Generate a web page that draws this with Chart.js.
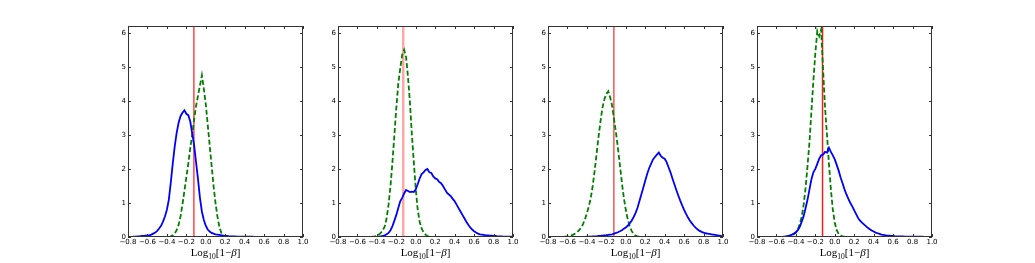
<!DOCTYPE html>
<html>
<head>
<meta charset="utf-8">
<script src="https://cdn.jsdelivr.net/npm/chart.js@4"></script>
<style>
  body { margin: 0; background: #fff; width: 1035px; height: 263px; position: relative; overflow: hidden; }
  canvas { position: absolute; top: 0; }
</style>
</head>
<body>
<canvas id="p0" width="220" height="263" style="left:98px"></canvas>
<canvas id="p1" width="220" height="263" style="left:308px"></canvas>
<canvas id="p2" width="220" height="263" style="left:518px"></canvas>
<canvas id="p3" width="220" height="263" style="left:727px"></canvas>
<script>
// histogram bin width and tick positions
const binWidth = 0.02;
const xTicks = [-0.8, -0.6, -0.4, -0.2, 0.0, 0.2, 0.4, 0.6, 0.8, 1.0];
const yTicks = [0, 1, 2, 3, 4, 5, 6];

// first bin centre of each histogram
const blueStart = [-0.74, -0.38, -0.40, -0.52];
const greenStart = [-0.36, -0.44, -0.62, -0.48];

// vertical marker (red line) per panel
const markerX = [-0.122, -0.129, -0.122, -0.126];

// blue (solid) histograms
const blue1 = [0.01, 0.01, 0.02, 0.02, 0.03, 0.03, 0.04, 0.05, 0.05, 0.07, 0.1, 0.13, 0.18, 0.25,
  0.33, 0.45, 0.6, 0.8, 1.1, 1.6, 2.15, 2.65, 3.05, 3.35, 3.55, 3.65, 3.72, 3.62, 3.58, 3.4,
  3.05, 2.7, 2.2, 1.7, 1.15, 0.75, 0.5, 0.33, 0.22, 0.16, 0.12, 0.1, 0.08, 0.07, 0.06, 0.05,
  0.04, 0.03, 0.03, 0.02, 0.02, 0.02, 0.02, 0.01, 0.01, 0.01, 0.01, 0.01, 0.01, 0.01, 0.01, 0.01];
const blue2 = [0.01, 0.02, 0.03, 0.05, 0.08, 0.12, 0.2, 0.32, 0.48, 0.65, 0.85, 1.05, 1.15, 1.28,
  1.38, 1.35, 1.32, 1.33, 1.32, 1.4, 1.55, 1.72, 1.85, 1.9, 1.97, 2.0, 1.9, 1.88, 1.78, 1.72,
  1.7, 1.62, 1.58, 1.5, 1.4, 1.3, 1.25, 1.2, 1.12, 1.05, 0.95, 0.85, 0.75, 0.65, 0.55, 0.45,
  0.36, 0.28, 0.22, 0.17, 0.13, 0.1, 0.08, 0.07, 0.06, 0.05, 0.05, 0.04, 0.04, 0.03, 0.03,
  0.02, 0.02, 0.02, 0.01, 0.01, 0.01, 0.01, 0.01];
const blue3 = [0.01, 0.01, 0.01, 0.02, 0.02, 0.02, 0.03, 0.03, 0.04, 0.05, 0.05, 0.06, 0.07, 0.08,
  0.1, 0.12, 0.14, 0.17, 0.2, 0.24, 0.28, 0.33, 0.4, 0.48, 0.58, 0.7, 0.85, 1.05, 1.25, 1.45,
  1.65, 1.85, 2.02, 2.15, 2.28, 2.35, 2.42, 2.48, 2.38, 2.33, 2.3, 2.2, 2.05, 1.9, 1.72, 1.55,
  1.38, 1.22, 1.07, 0.93, 0.8, 0.68, 0.57, 0.48, 0.4, 0.33, 0.27, 0.22, 0.18, 0.15, 0.13,
  0.11, 0.1, 0.09, 0.08, 0.07, 0.06, 0.05, 0.04, 0.03];
const blue4 = [0.01, 0.02, 0.03, 0.05, 0.07, 0.1, 0.14, 0.2, 0.3, 0.45, 0.62, 0.85, 1.1, 1.4,
  1.7, 1.9, 2.0, 2.15, 2.3, 2.4, 2.42, 2.5, 2.48, 2.62, 2.5, 2.4, 2.28, 2.12, 1.95, 1.75,
  1.58, 1.4, 1.25, 1.12, 1.0, 0.9, 0.78, 0.67, 0.56, 0.48, 0.42, 0.37, 0.32, 0.27, 0.23, 0.19,
  0.16, 0.13, 0.11, 0.09, 0.07, 0.06, 0.05, 0.04, 0.04, 0.03, 0.03, 0.02, 0.02, 0.02, 0.02,
  0.02, 0.01, 0.01, 0.01, 0.01, 0.01, 0.01, 0.01, 0.01, 0.01, 0.01];

// green (dashed) histograms
const green1 = [0.02, 0.05, 0.1, 0.2, 0.35, 0.6, 0.95, 1.35, 1.75, 2.15, 2.6, 3.0, 3.45, 3.85,
  4.15, 4.45, 4.75, 4.35, 3.9, 3.3, 2.7, 2.1, 1.5, 1.0, 0.6, 0.3, 0.12, 0.04, 0.01];
const green2 = [0.01, 0.02, 0.04, 0.07, 0.12, 0.2, 0.3, 0.55, 0.95, 1.5, 2.2, 3.0, 3.8, 4.5,
  4.95, 5.35, 5.5, 5.3, 4.7, 3.95, 3.0, 2.2, 1.4, 0.8, 0.45, 0.25, 0.14, 0.07, 0.03, 0.01];
const green3 = [0.01, 0.02, 0.03, 0.05, 0.07, 0.1, 0.14, 0.2, 0.27, 0.38, 0.52, 0.7, 0.9, 1.15,
  1.5, 1.95, 2.45, 2.95, 3.4, 3.8, 4.05, 4.2, 4.28, 4.1, 3.85, 3.45, 3.05, 2.6, 2.1, 1.6,
  1.15, 0.8, 0.52, 0.32, 0.18, 0.09, 0.04, 0.02, 0.01];
const green4 = [0.01, 0.02, 0.05, 0.08, 0.13, 0.22, 0.38, 0.6, 0.95, 1.45, 2.1, 2.8, 3.7, 4.6,
  5.4, 6.05, 5.9, 6.1, 4.9, 3.8, 3.0, 2.15, 1.4, 0.8, 0.42, 0.2, 0.09, 0.04, 0.02, 0.01];

const blueValues = [blue1, blue2, blue3, blue4];
const greenValues = [green1, green2, green3, green4];
const markerStyle = [
  { color: '#ff0000', width: 1.1 },
  { color: 'rgba(255,0,0,0.35)', width: 2.5 },
  { color: '#ee0000', width: 1 },
  { color: '#ff1a1a', width: 1.5 }
];

function histPoints(start, values) {
  const pts = [{ x: +(start - binWidth).toFixed(3), y: 0 }];
  values.forEach((v, i) => pts.push({ x: +(start + i * binWidth).toFixed(3), y: v }));
  pts.push({ x: +(start + values.length * binWidth).toFixed(3), y: 0 });
  return pts;
}

const tickFont = { family: 'DejaVu Sans', size: 7 };

// frame, inward ticks on all sides and the x label
const frameTicks = {
  id: 'frameTicks',
  afterDatasetsDraw(chart) {
    const { ctx, chartArea: a, scales: { x, y } } = chart;
    ctx.save();
    ctx.strokeStyle = '#333';
    ctx.lineWidth = 1;
    ctx.strokeRect(a.left + 0.5, a.top + 0.5, a.right - a.left - 1, a.bottom - a.top - 1);
    ctx.beginPath();
    xTicks.forEach(v => {
      const px = Math.round(x.getPixelForValue(v)) + 0.5;
      ctx.moveTo(px, a.bottom); ctx.lineTo(px, a.bottom - 3);
      ctx.moveTo(px, a.top); ctx.lineTo(px, a.top + 3);
    });
    yTicks.forEach(v => {
      const py = Math.round(y.getPixelForValue(v)) + 0.5;
      ctx.moveTo(a.left, py); ctx.lineTo(a.left + 3, py);
      ctx.moveTo(a.right, py); ctx.lineTo(a.right - 3, py);
    });
    ctx.stroke();

    // Log10[1-beta]
    const parts = [
      { t: 'Log', f: '11px "Liberation Serif"', dy: 0 },
      { t: '10', f: '7.5px "Liberation Serif"', dy: 2.5 },
      { t: '[1\u2212', f: '11px "Liberation Serif"', dy: 0 },
      { t: '\u03b2', f: 'italic 11px "Liberation Serif"', dy: 0 },
      { t: ']', f: '11px "Liberation Serif"', dy: 0 }
    ];
    let total = 0;
    parts.forEach(p => { ctx.font = p.f; p.w = ctx.measureText(p.t).width; total += p.w; });
    let cx = (a.left + a.right) / 2 - total / 2;
    const base = 256;
    ctx.fillStyle = '#000';
    ctx.textBaseline = 'alphabetic';
    parts.forEach(p => { ctx.font = p.f; ctx.fillText(p.t, cx, base + p.dy); cx += p.w; });
    ctx.restore();
  }
};

for (let k = 0; k < 4; k++) {
  new Chart(document.getElementById('p' + k), {
    type: 'line',
    data: {
      datasets: [
        {
          data: histPoints(blueStart[k], blueValues[k]),
          borderColor: '#0000ff', borderWidth: 1.8, tension: 0,
          pointRadius: 0, fill: false
        },
        {
          data: histPoints(greenStart[k], greenValues[k]),
          borderColor: '#008000', borderWidth: 1.8, borderDash: [5, 2.5], tension: 0,
          pointRadius: 0, fill: false
        },
        {
          data: [{ x: markerX[k], y: 0 }, { x: markerX[k], y: 6.2 }],
          borderColor: markerStyle[k].color, borderWidth: markerStyle[k].width,
          pointRadius: 0, fill: false
        }
      ]
    },
    options: {
      responsive: false,
      animation: false,
      events: [],
      layout: { padding: { top: 26, right: 15, left: 0, bottom: 0 } },
      plugins: { legend: { display: false }, tooltip: { enabled: false } },
      scales: {
        x: {
          type: 'linear', min: -0.8, max: 1.0,
          afterFit: s => { s.height = 26; },
          afterBuildTicks: s => { s.ticks = xTicks.map(v => ({ value: v })); },
          grid: { display: false, drawTicks: false },
          border: { display: false },
          ticks: {
            font: tickFont, color: '#000', padding: 1, maxRotation: 0, autoSkip: false,
            callback: v => v.toFixed(1).replace('-', '\u2212')
          }
        },
        y: {
          min: 0, max: 6.2,
          afterFit: s => { s.width = 30; },
          afterBuildTicks: s => { s.ticks = yTicks.map(v => ({ value: v })); },
          grid: { display: false, drawTicks: false },
          border: { display: false },
          ticks: { font: tickFont, color: '#000', padding: 2, callback: v => String(v) }
        }
      }
    },
    plugins: [frameTicks]
  });
}
</script>
</body>
</html>
